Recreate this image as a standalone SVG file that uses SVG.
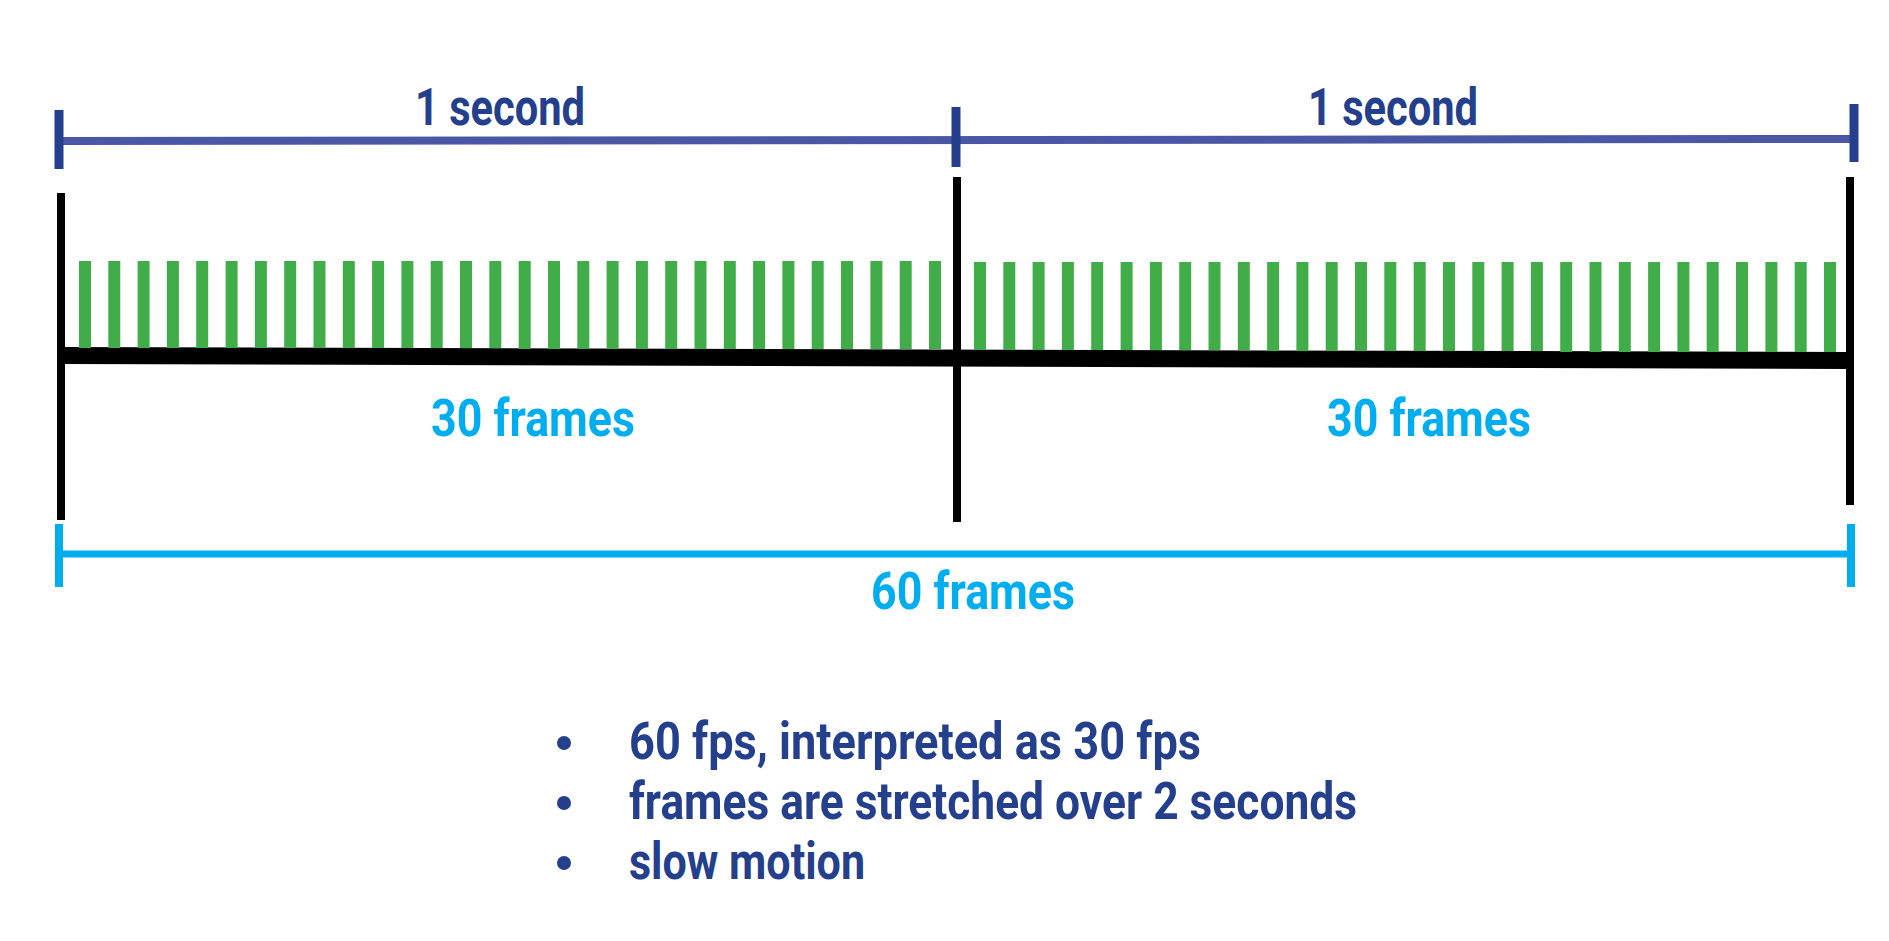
<svg xmlns="http://www.w3.org/2000/svg" width="1889" height="941" viewBox="0 0 1889 941">
<style>
.t{font-family:Roboto,"Liberation Sans",sans-serif;font-weight:bold;font-size:52px}
.db{fill:#243f8c}.cy{fill:#00aeef}
.g rect{fill:#41ad49}
</style>
<defs>
<rect id="gb" width="12" height="88"/>
</defs>
<rect width="1889" height="941" fill="#fff"/>
<g id="connectors">
<line x1="59" y1="141" x2="1850" y2="139" stroke="#4a57a5" stroke-width="8"/>
<line x1="59" y1="110" x2="59" y2="169" stroke="#243f8c" stroke-width="9"/>
<line x1="956" y1="107" x2="956" y2="167" stroke="#243f8c" stroke-width="9"/>
<line x1="1854" y1="104" x2="1854" y2="162" stroke="#243f8c" stroke-width="9"/>
<line x1="61" y1="193" x2="61" y2="520" stroke="#000" stroke-width="8"/>
<line x1="957" y1="177" x2="957" y2="522" stroke="#000" stroke-width="8"/>
<line x1="1850" y1="177" x2="1850" y2="505" stroke="#000" stroke-width="8"/>
<polygon points="61,347 1850,352 1850,369 61,364" fill="#000"/>
<line x1="59" y1="554" x2="1851" y2="554" stroke="#00aeef" stroke-width="7"/>
<line x1="59" y1="524" x2="59" y2="587" stroke="#00aeef" stroke-width="8"/>
<line x1="1851" y1="524" x2="1851" y2="587" stroke="#00aeef" stroke-width="8"/>
</g>
<g id="frames-left" class="g">
<rect x="79" y="261" width="12" height="87"/><rect x="108.3" y="261" width="12" height="87"/><rect x="137.6" y="261" width="12" height="87"/><rect x="166.9" y="261" width="12" height="87"/><rect x="196.2" y="261" width="12" height="87"/><rect x="225.6" y="261" width="12" height="87"/><rect x="254.9" y="261" width="12" height="87"/><rect x="284.2" y="261" width="12" height="87"/><rect x="313.5" y="261" width="12" height="87"/><rect x="342.8" y="261" width="12" height="87"/><rect x="372.1" y="261" width="12" height="87"/><rect x="401.4" y="261" width="12" height="87"/><rect x="430.7" y="261" width="12" height="87"/><rect x="460" y="261" width="12" height="87"/><rect x="489.3" y="261" width="12" height="87"/><rect x="518.7" y="261" width="12" height="88"/><rect x="548" y="261" width="12" height="88"/><rect x="577.3" y="261" width="12" height="88"/><rect x="606.6" y="261" width="12" height="88"/><rect x="635.9" y="261" width="12" height="88"/><rect x="665.2" y="261" width="12" height="88"/><rect x="694.5" y="261" width="12" height="88"/><rect x="723.8" y="261" width="12" height="88"/><rect x="753.1" y="261" width="12" height="88"/><rect x="782.4" y="261" width="12" height="88"/><rect x="811.7" y="261" width="12" height="88"/><rect x="841" y="261" width="12" height="88"/><rect x="870.4" y="261" width="12" height="88"/><rect x="899.7" y="261" width="12" height="88"/><rect x="929" y="261" width="12" height="88"/>
</g>
<g id="frames-right" class="g">
<rect x="974" y="262" width="12" height="88"/><rect x="1003.3" y="262" width="12" height="88"/><rect x="1032.6" y="262" width="12" height="88"/><rect x="1061.9" y="262" width="12" height="88"/><rect x="1091.2" y="262" width="12" height="88"/><rect x="1120.6" y="262" width="12" height="88"/><rect x="1149.9" y="262" width="12" height="88"/><rect x="1179.2" y="262" width="12" height="88"/><rect x="1208.5" y="262" width="12" height="88"/><rect x="1237.8" y="262" width="12" height="88"/><rect x="1267.1" y="262" width="12" height="89"/><rect x="1296.4" y="262" width="12" height="89"/><rect x="1325.7" y="262" width="12" height="89"/><rect x="1355" y="262" width="12" height="89"/><rect x="1384.3" y="262" width="12" height="89"/><rect x="1413.7" y="262" width="12" height="89"/><rect x="1443" y="262" width="12" height="89"/><rect x="1472.3" y="262" width="12" height="89"/><rect x="1501.6" y="262" width="12" height="89"/><rect x="1530.9" y="262" width="12" height="89"/><rect x="1560.2" y="262" width="12" height="90"/><rect x="1589.5" y="262" width="12" height="90"/><rect x="1618.8" y="262" width="12" height="90"/><rect x="1648.1" y="262" width="12" height="90"/><rect x="1677.4" y="262" width="12" height="90"/><rect x="1706.7" y="262" width="12" height="90"/><rect x="1736" y="262" width="12" height="90"/><rect x="1765.4" y="262" width="12" height="90"/><rect x="1794.7" y="262" width="12" height="90"/><rect x="1824" y="262" width="12" height="90"/>
</g>
<g id="labels">
<text class="t db" x="500" y="125" text-anchor="middle" textLength="170" lengthAdjust="spacingAndGlyphs">1 second</text>
<text class="t db" x="1393" y="125" text-anchor="middle" textLength="170" lengthAdjust="spacingAndGlyphs">1 second</text>
<text class="t cy" x="533" y="436" text-anchor="middle" textLength="204" lengthAdjust="spacingAndGlyphs">30 frames</text>
<text class="t cy" x="1429" y="436" text-anchor="middle" textLength="204" lengthAdjust="spacingAndGlyphs">30 frames</text>
<text class="t cy" x="973" y="609" text-anchor="middle" textLength="204" lengthAdjust="spacingAndGlyphs">60 frames</text>
</g>
<g id="bullets" class="db">
<circle cx="564" cy="743" r="7"/><circle cx="564" cy="803" r="7"/><circle cx="564" cy="863" r="7"/>
<text class="t" x="629" y="759" textLength="572" lengthAdjust="spacingAndGlyphs">60 fps, interpreted as 30 fps</text>
<text class="t" x="629" y="819" textLength="728" lengthAdjust="spacingAndGlyphs">frames are stretched over 2 seconds</text>
<text class="t" x="629" y="879" textLength="236" lengthAdjust="spacingAndGlyphs">slow motion</text>
</g>
</svg>
